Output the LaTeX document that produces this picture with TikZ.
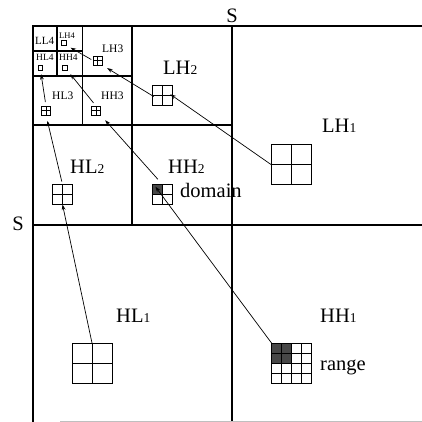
\documentclass[tikz,border=0pt]{standalone}
\usepackage{fontspec}
\setmainfont{Liberation Serif}
\usetikzlibrary{arrows.meta,calc}
\newcommand\lvdig[1]{{\fontsize{13.5}{14}\selectfont #1}}
\begin{document}
\begin{tikzpicture}[x=1pt,y=-1pt,
  frame/.style={line width=1.1pt},
  faint/.style={line width=0.8pt,black!25},
  big/.style={font=\fontsize{20.5}{24}\selectfont, inner sep=0pt, anchor=base west},
  mid/.style={font=\fontsize{11.5}{13}\selectfont, inner sep=0pt, anchor=base west},
  small/.style={font=\fontsize{9.5}{11}\selectfont, inner sep=0pt, anchor=base west},
  quad/.style={draw, line width=0.75pt, minimum size=#1, inner sep=0pt, outer sep=0pt,
    path picture={\draw[line width=0.6pt] (path picture bounding box.north) -- (path picture bounding box.south)
      (path picture bounding box.west) -- (path picture bounding box.east);}},
  shadenw/.style={path picture={\fill[black!72] (path picture bounding box.north west) rectangle (path picture bounding box.center);
      \draw[line width=0.6pt] (path picture bounding box.north) -- (path picture bounding box.south)
      (path picture bounding box.west) -- (path picture bounding box.east);}},
  grid4/.style={draw, line width=0.75pt, minimum size=#1, inner sep=0pt, outer sep=0pt,
    path picture={\fill[black!72] (path picture bounding box.north west) rectangle (path picture bounding box.center);
      \foreach \t in {0.25,0.5,0.75}{
        \draw[line width=0.6pt] ($(path picture bounding box.north west)!\t!(path picture bounding box.north east)$) --
          ($(path picture bounding box.south west)!\t!(path picture bounding box.south east)$);
        \draw[line width=0.6pt] ($(path picture bounding box.north west)!\t!(path picture bounding box.south west)$) --
          ($(path picture bounding box.north east)!\t!(path picture bounding box.south east)$);}}},
  tinybox/.style={draw, line width=0.7pt, minimum size=#1, inner sep=0pt, outer sep=0pt},
  arr/.style={line width=0.7pt, -{Stealth[length=5.5pt,width=3.8pt]}}]
\useasboundingbox (0,0) rectangle (422,422);

% frame lines
\draw[frame] (422,26) -- (33,26) -- (33,422);
\draw[frame] (232,26) -- (232,422);
\draw[frame] (33,225) -- (422,225);
\draw[frame] (132,26) -- (132,225);
\draw[frame] (33,125) -- (232,125);
\draw[frame] (82.5,26) -- (82.5,125);
\draw[frame] (33,76) -- (132,76);
\draw[frame] (57,26) -- (57,76);
\draw[frame] (33,51) -- (82.5,51);
\draw[faint] (60,421) -- (422,421);

% S labels
\node[font=\fontsize{20.5}{24}\selectfont, inner sep=0pt, anchor=base] (Stop) at (232,23) {S};
\node[font=\fontsize{20.5}{24}\selectfont, inner sep=0pt, anchor=base] (Sleft) at (18,230) {S};

% band labels
\node[big] (tLH1) at (322,132) {LH\lvdig{1}};
\node[big] (tLH2) at (163,75) {LH\lvdig{2}};
\node[big] (tHH2) at (168,173) {HH\lvdig{2}};
\node[big] (tHL2) at (70,173) {HL\lvdig{2}};
\node[big] (tHL1) at (116,322) {HL\lvdig{1}};
\node[big] (tHH1) at (320,322) {HH\lvdig{1}};
\node[big] (tdom) at (180,197) {domain};
\node[big] (trng) at (320,370) {range};
\node[mid] (tLH3) at (102,53) {LH3};
\node[mid] (tHL3) at (52,100) {HL3};
\node[mid] (tHH3) at (101,100) {HH3};
\node[small, font=\fontsize{11}{12}\selectfont] (tLL4) at (35,44.5) {LL4};
\node[small, font=\fontsize{8.5}{10}\selectfont] (tLH4) at (59,39) {LH4};
\node[small] (tHL4) at (36,61) {HL4};
\node[small] (tHH4) at (59,61) {HH4};

% blocks
\node[quad=40pt] (sqLH1) at (291,164.5) {};
\node[quad=20pt] (sqLH2) at (162,95.5) {};
\node[quad=9pt] (sqLH3) at (97.5,60.5) {};
\node[tinybox=4.5pt] (sqLH4) at (64,43) {};
\node[quad=40pt] (sqHL1) at (92,363) {};
\node[quad=20pt] (sqHL2) at (62.5,194.5) {};
\node[quad=9pt] (sqHL3) at (46,110.5) {};
\node[tinybox=4.5pt] (sqHL4) at (40.5,68) {};
\node[grid4=40pt] (sqHH1) at (291.5,363) {};
\node[quad=20pt, shadenw] (sqHH2) at (162.5,194.5) {};
\node[quad=9pt] (sqHH3) at (96,110.5) {};
\node[tinybox=4.5pt] (sqHH4) at (65,68) {};
\coordinate (dcell) at ($(sqHH2.north west)!0.5!(sqHH2.center)$);

% arrows
\draw[arr, shorten >=-2pt] (sqLH1.west) -- (sqLH2.east);
\draw[arr, shorten <=-2pt, shorten >=6pt] (sqLH2.west) -- (sqLH3.south east);
\draw[arr, shorten <=2pt, shorten >=5pt] (sqLH3.west) -- (sqLH4.south east);
\draw[arr] (sqHL1.north) -- (sqHL2.south);
\draw[arr, shorten <=3pt, shorten >=6pt] (sqHL2.north) -- (sqHL3.south);
\draw[arr, shorten <=4pt, shorten >=4pt] (sqHL3.north) -- (sqHL4.south);
\draw[arr, shorten >=-3.5pt] (sqHH1.north west) -- (dcell);
\draw[arr, shorten <=7pt, shorten >=7pt] (sqHH2.north) -- (sqHH3.south east);
\draw[arr, shorten <=4pt, shorten >=5pt] (sqHH3.north) -- (sqHH4.south east);
\end{tikzpicture}
\end{document}
